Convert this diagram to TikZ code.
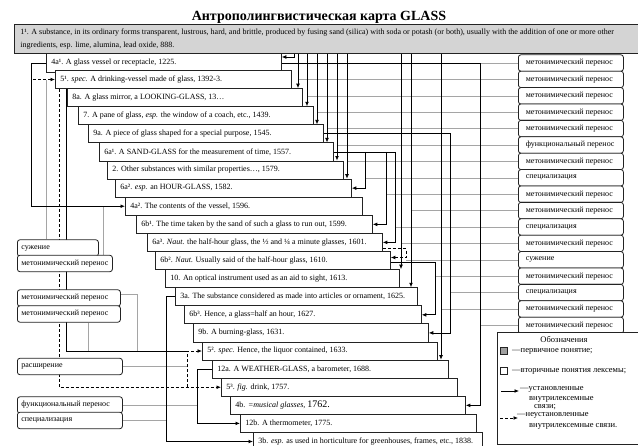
\documentclass[tikz,border=0pt]{standalone}
\usepackage{fontspec}
\setmainfont{Liberation Serif}
\usetikzlibrary{arrows.meta}
\pgfdeclarelayer{bg}
\pgfsetlayers{bg,main}
\definecolor{boxgray}{RGB}{212,212,212}
\definecolor{sqgray}{RGB}{160,160,160}
\definecolor{leadgray}{RGB}{165,165,165}
\definecolor{edgecol}{RGB}{35,35,35}
\tikzset{
  sense/.style={draw=edgecol, line width=0.75pt, fill=white, anchor=north west, minimum height=18.1pt, inner xsep=5pt, inner ysep=0pt, font=\fontsize{8}{9}\selectfont},
  lab/.style={draw=edgecol, line width=0.8pt, fill=white, rounded corners=2.5pt, anchor=west, minimum height=16.4pt, inner ysep=0pt, font=\fontsize{8}{9}\selectfont},
  conn/.style={draw=black, line width=0.8pt, -{Latex[length=4.5pt,width=3.8pt]}},
  dconn/.style={conn, dash pattern=on 3pt off 2pt},
  plainline/.style={draw=black, line width=0.8pt},
  lead/.style={draw=leadgray, line width=0.5pt},
  legtext/.style={anchor=west, inner sep=0pt, font=\fontsize{8.5}{10}\selectfont},
  sq/.style={draw=edgecol, line width=0.75pt, minimum size=7.5pt, inner sep=0pt},
}
\newcommand\mksense[5]{\node[sense] (#1) at (#2,#3) {\makebox[#4][l]{#5}};}
\newcommand\mklab[6]{\node[lab, inner xsep=#5] (#1) at (#2,#3) {\makebox[#4][l]{#6}};}
\begin{document}
\begin{tikzpicture}[x=1pt,y=-1pt]
\useasboundingbox (0,0) rectangle (638,446);
% ---------- title and primary concept
\node[font=\fontsize{14}{16}\selectfont\bfseries, inner sep=0pt] (title) at (319,17) {Антрополингвистическая карта GLASS};
\node[draw=edgecol, line width=0.75pt, fill=boxgray, anchor=north west, minimum height=29pt, inner xsep=6pt, inner ysep=0pt, align=left, font=\fontsize{8}{13}\selectfont] (top) at (14,24)
  {\makebox[618pt][l]{1¹. A substance, in its ordinary forms transparent, lustrous, hard, and brittle, produced by fusing sand (silica) with soda or potash (or both), usually with the addition of one or more other}\\
   \makebox[618pt][l]{ingredients, esp. lime, alumina, lead oxide, 888.}};
% ---------- sense boxes
\mksense{b1}{46}{53.5}{225pt}{4a¹. A glass vessel or receptacle, 1225.}
\mksense{b2}{55}{70.1}{226pt}{5¹. \textit{spec.} A drinking-vessel made of glass, 1392-3.}
\mksense{b3}{67}{88.2}{225pt}{8a. A glass mirror, a LOOKING-GLASS, 13…}
\mksense{b4}{78}{106.3}{225pt}{7. A pane of glass, \textit{esp.} the window of a coach, etc., 1439.}
\mksense{b5}{88}{124.4}{225pt}{9a. A piece of glass shaped for a special purpose, 1545.}
\mksense{b6}{99}{142.5}{224pt}{6a¹. A SAND-GLASS for the measurement of time, 1557.}
\mksense{b7}{107}{160.6}{226pt}{2. Other substances with similar properties…, 1579.}
\mksense{b8}{115}{178.7}{226pt}{6a². \textit{esp.} an HOUR-GLASS, 1582.}
\mksense{b9}{125}{196.8}{227pt}{4a². The contents of the vessel, 1596.}
\mksense{b10}{136}{214.9}{226pt}{6b¹. The time taken by the sand of such a glass to run out, 1599.}
\mksense{b11}{147}{233.0}{225pt}{6a³. \textit{Naut.} the half-hour glass, the ½ and ¼ a minute glasses, 1601.}
\mksense{b12}{155}{251.1}{225pt}{6b². \textit{Naut.} Usually said of the half-hour glass, 1610.}
\mksense{b13}{165}{269.2}{224pt}{10. An optical instrument used as an aid to sight, 1613.}
\mksense{b14}{175}{287.3}{232pt}{3a. The substance considered as made into articles or ornament, 1625.}
\mksense{b15}{184}{305.4}{227pt}{6b³. Hence, a glass=half an hour, 1627.}
\mksense{b16}{193}{323.5}{225pt}{9b. A burning-glass, 1631.}
\mksense{b17}{202}{341.6}{225pt}{5². \textit{spec.} Hence, the liquor contained, 1633.}
\mksense{b18}{212}{359.7}{226pt}{12a. A WEATHER-GLASS, a barometer, 1688.}
\mksense{b19}{221}{377.8}{226pt}{5³. \textit{fig.} drink, 1757.}
\mksense{b20}{230}{395.9}{225pt}{4b. \textit{=musical glasses,} {\fontsize{10}{10}\selectfont 1762.}}
\mksense{b21}{240}{414.0}{226pt}{12b. A thermometer, 1775.}
\mksense{b22}{253}{432.1}{219pt}{3b. \textit{esp.} as used in horticulture for greenhouses, frames, etc., 1838.}
% ---------- right labels
\foreach \k/\txt in {1/метонимический перенос,2/метонимический перенос,3/метонимический перенос,4/метонимический перенос,5/метонимический перенос,6/функциональный перенос,7/метонимический перенос,8/специализация,9/метонимический перенос,10/метонимический перенос,11/специализация,12/метонимический перенос,13/сужение,14/метонимический перенос,15/специализация,16/метонимический перенос,17/метонимический перенос}
  {\node[lab, inner xsep=7.5pt] (r\k) at (518,{63+16.4*(\k-1)}) {\makebox[90pt][l]{\txt}};}
% ---------- left labels
\mklab{l1}{17}{248}{73pt}{4pt}{сужение}
\mklab{l2}{17}{263.5}{87pt}{4pt}{метонимический перенос}
\mklab{l3}{17}{298}{95pt}{4pt}{метонимический перенос}
\mklab{l4}{17}{314}{95pt}{4pt}{метонимический перенос}
\mklab{l5}{17}{366.5}{97pt}{4pt}{расширение}
\mklab{l6}{17}{405}{97pt}{4pt}{функциональный перенос}
\mklab{l7}{17}{420.5}{97pt}{4pt}{специализация}
% ---------- legend
\node[draw=edgecol, line width=0.75pt, fill=white, anchor=north west, minimum width=143pt, minimum height=112pt, inner sep=0pt] (leg) at (497,332) {};
\node[inner sep=0pt, font=\fontsize{8.5}{10}\selectfont] (legh) at (564,339.5) {Обозначения};
\node[sq, fill=sqgray] (sq1) at (504,351) {};
\node[legtext] (lt1) at (512,351) {—первичное понятие;};
\node[sq, fill=white] (sq2) at (504,371) {};
\node[legtext] (lt2) at (512,371) {—вторичные понятия лексемы;};
\coordinate (a1s) at (501,391);
\coordinate (a1e) at (519,391);
\draw[conn] (a1s) -- (a1e);
\node[legtext] (lt3) at (520,389) {—установленные};
\node[legtext] (lt3b) at (529,399) {внутрилексемные};
\node[legtext] (lt3c) at (534,407.5) {связи;};
\coordinate (a2s) at (500,418);
\coordinate (a2e) at (518,418);
\draw[dconn] (a2s) -- (a2e);
\node[legtext] (lt4) at (517,415) {—неустановленные};
\node[legtext] (lt4b) at (529,426.5) {внутрилексемные связи.};
% ---------- connectors and leaders behind the boxes
\begin{pgfonlayer}{bg}
  % gray leaders, right labels
  \foreach \k/\x in {1/480,2/298,3/307,4/317,5/327,6/337,7/347,8/365,9/386,10/411,11/395,12/401,13/406,14/435,15/450,16/441,17/480}
    {\draw[lead] (r\k.west) -- (\x,0 |- r\k.west);}
  % gray leaders, left labels
  \draw[lead] (46,0 |- l1.north) -- (46,0 |- b2.west);
  \draw[lead] (103,0 |- l2.north) -- (103,0 |- b9.west);
  \draw[lead] ([yshift=4pt]l3.east) -| (137,0 |- b17.west);
  \draw[lead] (88,0 |- l4.south) -- (88,0 |- b17.west);
  \draw[lead] (l5.east) -- (187,0 |- l5.east);
  \draw[lead] (l6.east) -- (197,0 |- l6.east);
  \draw[lead] (l7.east) -- (166,0 |- l7.east);
  % from the primary concept
  \draw[conn] (294,0 |- top.south) |- (b1.east |- 0,57);
  \foreach \x/\t in {298/b3,307/b4,317/b5,327/b6,337/b7,347/b8,401/b13,411/b14,441/b18}
    {\draw[conn] (\x,0 |- top.south) -- (\x,0 |- \t.north);}
  % 6a1 branches
  \draw[plainline] (b6.east) -- (395,0 |- b6.east);
  \draw[conn] (365,0 |- b6.east) |- (b8.east);
  \draw[conn] (386,0 |- b6.east) |- (b10.east);
  \draw[conn] (395,0 |- b6.east) |- (b11.east);
  % 9a -> 9b
  \draw[conn] (b5.east) -- (450,0 |- b5.east) |- (b16.east);
  % 4a1 -> 4b
  \draw[conn] (b1.east) -- (480,0 |- b1.east) |- (b20.east);
  % 6a3 -> 6b2 (dashed), 6b2 -> 6b3
  \coordinate (d11) at ([yshift=3pt]b11.south east);
  \coordinate (d12) at ([yshift=3pt]b12.east);
  \draw[dconn] (d11) -- (406,0 |- d11) |- (d12);
  \coordinate (j12) at ([yshift=-1.5pt]b12.east);
  \draw[conn] (j12) -- (435,0 |- j12) |- (b15.east);
  % left side
  \draw[conn] (b1.west) -- (31,0 |- b1.west) |- (b9.west);
  \coordinate (d5) at (33,0 |- b2.west);
  \draw[dconn] (d5) -- (b2.west);
  \draw[dconn] ([xshift=4pt]b2.south west) |- (b19.west);
  \coordinate (j17) at (187,0 |- b17.west);
  \draw[plainline] ([xshift=11pt]b2.south west) |- (j17);
  \draw[dconn] (187,0 |- b19.west) -- (j17) -- (b17.west);
  \draw[conn] (b18.west) -- (197,0 |- b18.west) |- (b21.west);
  \draw[conn] (b14.west) -- (166,0 |- b14.west) |- (b22.west);
\end{pgfonlayer}
\end{tikzpicture}
\end{document}
